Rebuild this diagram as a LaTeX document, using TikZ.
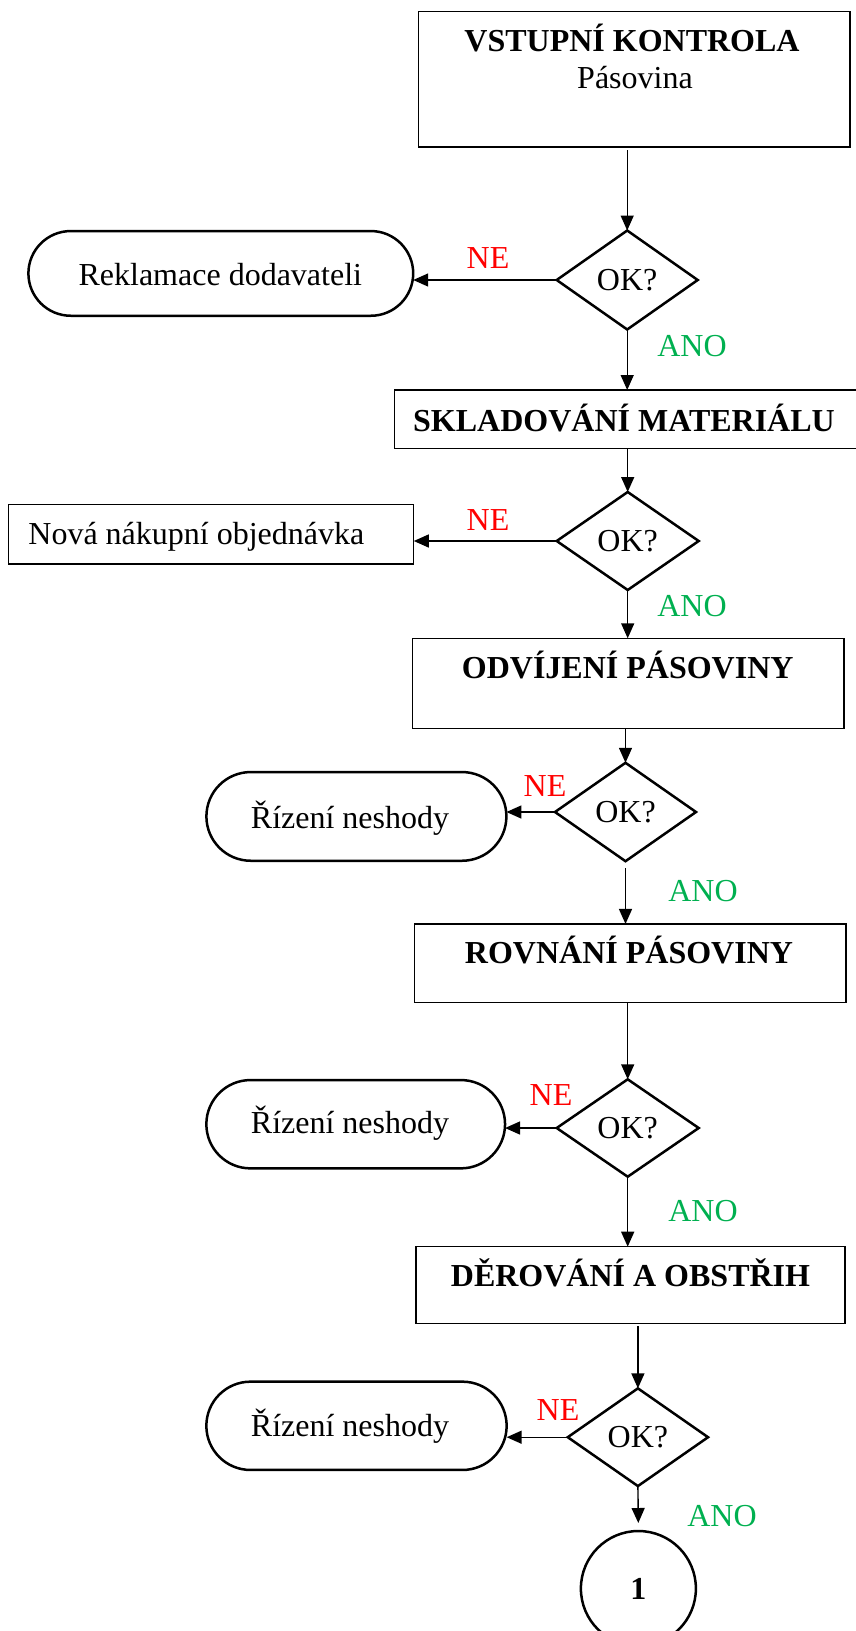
\documentclass[tikz,border=0pt]{standalone}
\usepackage{fontspec}
\setmainfont{Liberation Serif}
\usetikzlibrary{shapes.geometric,shapes.misc,arrows.meta}
\definecolor{noRed}{RGB}{255,0,0}
\definecolor{yesGreen}{RGB}{0,176,80}
\begin{document}
\begin{tikzpicture}[x=1pt,y=-1pt,
  every node/.style={font=\fontsize{32}{38}\selectfont, inner sep=0pt, outer sep=0pt},
  procbox/.style={draw, line width=1.3pt, rectangle},
  termbox/.style={draw, line width=2.5pt, rounded rectangle},
  decide/.style={draw, line width=2.5pt, diamond, aspect=1.43,
    text height=21pt, text depth=0pt},
  connector/.style={draw, line width=2.5pt, circle, minimum size=115pt,
    text height=21pt, text depth=0pt, font=\fontsize{32}{38}\selectfont\bfseries},
  flow/.style={line width=1.4pt, -{Triangle[length=15pt,width=13pt]}},
  boxtitle/.style={anchor=base, font=\fontsize{32}{38}\selectfont\bfseries},
  plain/.style={anchor=base},
  nolabel/.style={anchor=base, text=noRed},
  yeslabel/.style={anchor=base, text=yesGreen}
]
\clip (0,0) rectangle (856,1631);

% --- incoming inspection
\node[procbox, minimum width=431.5pt, minimum height=135.3pt] (b1) at (634.25,79.35) {};
\node[boxtitle] (b1t) at (632,51.7) {VSTUPNÍ KONTROLA};
\node[plain] (b1s) at (635,88.3) {Pásovina};

\node[decide, minimum width=141pt, minimum height=99pt] (d1) at (627.2,280) {OK?};
\node[termbox, minimum width=384.8pt, minimum height=84.7pt] (t1) at (220.8,273.4) {};
\node[plain] (t1t) at (220.3,285) {Reklamace dodavateli};
\node[nolabel] (ne1) at (488,268) {NE};
\node[yeslabel] (ano1) at (692,356) {ANO};

% --- storage
\node[procbox, minimum width=465pt, minimum height=58.5pt] (b2) at (626.8,419.25) {};
\node[boxtitle] (b2t) at (624,431) {SKLADOVÁNÍ MATERIÁLU};

\node[decide, minimum width=142pt, minimum height=98pt] (d2) at (627.7,541) {OK?};
\node[procbox, minimum width=405.6pt, minimum height=59.7pt] (t2) at (211,534.2) {};
\node[plain, anchor=base west] (t2t) at (28.4,544) {Nová nákupní objednávka};
\node[nolabel] (ne2) at (488,530) {NE};
\node[yeslabel] (ano2) at (692,616.7) {ANO};

% --- uncoiling
\node[procbox, minimum width=431.2pt, minimum height=90pt] (b3) at (628.3,683.3) {};
\node[boxtitle] (b3t) at (627.7,678.3) {ODVÍJENÍ PÁSOVINY};

\node[decide, minimum width=141pt, minimum height=98.4pt] (d3) at (625.5,812) {OK?};
\node[termbox, minimum width=300pt, minimum height=88.7pt] (t3) at (356.4,816.4) {};
\node[plain] (t3t) at (350,828.3) {Řízení neshody};
\node[nolabel] (ne3) at (545,796.7) {NE};
\node[yeslabel] (ano3) at (703,901.7) {ANO};

% --- straightening
\node[procbox, minimum width=431.2pt, minimum height=78.7pt] (b4) at (630.4,963.3) {};
\node[boxtitle] (b4t) at (629,963.3) {ROVNÁNÍ PÁSOVINY};

\node[decide, minimum width=142pt, minimum height=97.4pt] (d4) at (627.7,1128) {OK?};
\node[termbox, minimum width=298.7pt, minimum height=88.3pt] (t4) at (355.7,1124.2) {};
\node[plain] (t4t) at (350,1133.3) {Řízení neshody};
\node[nolabel] (ne4) at (551,1105) {NE};
\node[yeslabel] (ano4) at (703,1221) {ANO};

% --- punching and trimming
\node[procbox, minimum width=429pt, minimum height=76.6pt] (b5) at (630.5,1285) {};
\node[boxtitle] (b5t) at (630.5,1286.7) {DĚROVÁNÍ A OBSTŘIH};

\node[decide, minimum width=140.3pt, minimum height=97.7pt] (d5) at (637.9,1437.2) {OK?};
\node[termbox, minimum width=300.3pt, minimum height=88.3pt] (t5) at (356.5,1425.8) {};
\node[plain] (t5t) at (350,1436) {Řízení neshody};
\node[nolabel] (ne5) at (558,1420) {NE};
\node[yeslabel] (ano5) at (722,1526.7) {ANO};

\node[connector] (c1) at (638.4,1588.5) {1};

% --- main flow
\draw[flow, shorten <=3pt] (b1.south -| d1.north) -- (d1.north);
\draw[flow] (d1.south) -- (d1.south |- b2.north);
\draw[flow] (b2.south -| d2.north) -- (d2.north);
\draw[flow] (d2.south) -- (d2.south |- b3.north);
\draw[flow] (b3.south -| d3.north) -- (d3.north);
\draw[flow, shorten <=7pt] (d3.south) -- (d3.south |- b4.north);
\draw[flow] (b4.south -| d4.north) -- (d4.north);
\draw[flow] (d4.south) -- (d4.south |- b5.north);
\draw[flow, shorten <=3pt] (b5.south -| d5.north) -- (d5.north);
\draw[flow, shorten >=8pt] (d5.south) -- (c1.north);

% --- rejection branches
\draw[flow] (d1.west) -- (d1.west -| t1.east);
\draw[flow] (d2.west) -- (d2.west -| t2.east);
\draw[flow] (d3.west) -- (d3.west -| t3.east);
\draw[flow] (d4.west) -- (d4.west -| t4.east);
\draw[flow] (d5.west) -- (d5.west -| t5.east);
\end{tikzpicture}
\end{document}
